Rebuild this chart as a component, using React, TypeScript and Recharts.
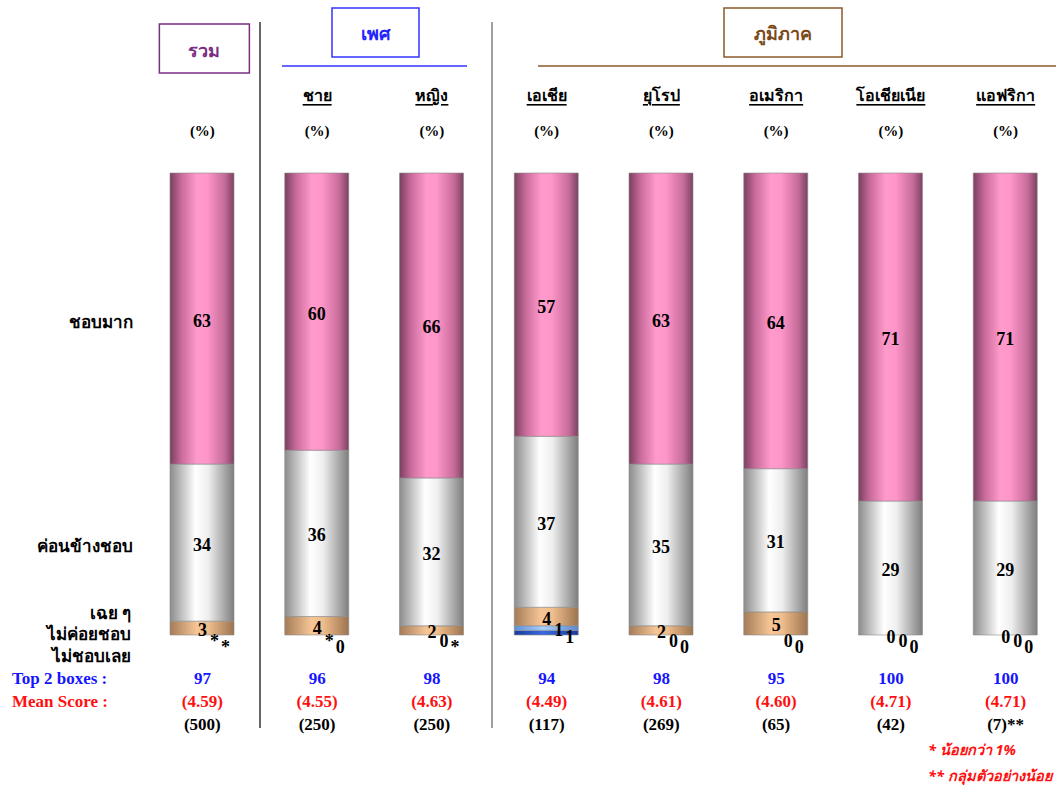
import React from "react";
import { BarChart, Bar, XAxis, YAxis, LabelList } from "recharts";

const categories = ["รวม", "ชาย", "หญิง", "เอเชีย", "ยุโรป", "อเมริกา", "โอเชียเนีย", "แอฟริกา"];
const likeMuch = [63, 60, 66, 57, 63, 64, 71, 71];
const likeSome = [34, 36, 32, 37, 35, 31, 29, 29];
const neutral = [3, 4, 2, 4, 2, 5, 0, 0];
const notMuch = [0, 0, 0, 1, 0, 0, 0, 0];
const notAtAll = [0, 0, 0, 1, 0, 0, 0, 0];
// "*" = less than 1%
const neutralLabels = ["3", "4", "2", "4", "2", "5", "0", "0"];
const notMuchLabels = ["*", "*", "0", "1", "0", "0", "0", "0"];
const notAtAllLabels = ["*", "0", "*", "1", "0", "0", "0", "0"];
const top2Boxes = [97, 96, 98, 94, 98, 95, 100, 100];
const meanScores = ["4.59", "4.55", "4.63", "4.49", "4.61", "4.60", "4.71", "4.71"];
const sampleSizes = ["(500)", "(250)", "(250)", "(117)", "(269)", "(65)", "(42)", "(7)**"];

const data = categories.map((name, i) => ({
  name,
  likeMuch: likeMuch[i],
  likeSome: likeSome[i],
  neutral: neutral[i],
  notMuch: notMuch[i],
  notAtAll: notAtAll[i],
}));

const SERIF = "'Liberation Serif', 'Times New Roman', serif";
const THAI = "Tahoma, 'Noto Sans', 'DejaVu Sans', sans-serif";
const PLOT_TOP = 173;
const BAR_BOTTOM = 635;
const PX = (BAR_BOTTOM - PLOT_TOP) / 100;

const TopTick = (props: any) => {
  const { x, index, payload } = props;
  return (
    <g>
      {index === 0 ? (
        <g>
          <rect x={x - 43} y={24} width={90} height={49} fill="#fff" stroke="#7b2c83" strokeWidth={1.5} />
          <text x={x + 2} y={50} textAnchor="middle" dominantBaseline="central" fill="#7b2c83"
            fontFamily={THAI} fontWeight="bold" fontSize={18}>{payload.value}</text>
        </g>
      ) : (
        <text x={x} y={95} textAnchor="middle" dominantBaseline="central" fill="#000"
          fontFamily={THAI} fontWeight="bold" fontSize={16} style={{ textDecoration: "underline" }}>
          {payload.value}
        </text>
      )}
      <text x={x} y={131} textAnchor="middle" dominantBaseline="central" fill="#000"
        fontFamily={SERIF} fontWeight="bold" fontSize={15}>(%)</text>
    </g>
  );
};

// small segment labels at the foot of each bar, plus the summary rows
const BottomTick = (props: any) => {
  const { x, index } = props;
  const a = notAtAll[index];
  const b = notMuch[index];
  const c = neutral[index];
  const yNeutral = BAR_BOTTOM - (a + b + c / 2) * PX + 2;
  const yNotMuch = b > 0 ? BAR_BOTTOM - (a + b / 2) * PX + 2 : BAR_BOTTOM + 6;
  const yNotAtAll = a > 0 ? BAR_BOTTOM - (a / 2) * PX + 4 : BAR_BOTTOM + 12;
  return (
    <g fontFamily={SERIF} fontWeight="bold" textAnchor="middle">
      <g fontSize={18} fill="#000">
        <text x={x} y={yNeutral} dominantBaseline="central">{neutralLabels[index]}</text>
        <text x={x + 12} y={yNotMuch} dominantBaseline="central">{notMuchLabels[index]}</text>
        <text x={x + 23} y={yNotAtAll} dominantBaseline="central">{notAtAllLabels[index]}</text>
      </g>
      <g fontSize={17}>
        <text x={x} y={678} dominantBaseline="central" fill="#1515ff">{top2Boxes[index]}</text>
        <text x={x} y={701} dominantBaseline="central" fill="#ff1010">({meanScores[index]})</text>
        <text x={x} y={724} dominantBaseline="central" fill="#000">{sampleSizes[index]}</text>
      </g>
    </g>
  );
};

const bigLabel = (props: any) => {
  const { x, y, width, height, value } = props;
  return (
    <text x={x + width / 2} y={y + height / 2 + 2} textAnchor="middle" dominantBaseline="central"
      fontFamily={SERIF} fontWeight="bold" fontSize={18} fill="#000">{value}</text>
  );
};

export default function App() {
  return (
    <div style={{ position: "absolute", left: 0, top: 0, width: 1056, height: 786, overflow: "hidden", background: "#fff" }}>
      <BarChart width={1063} height={786} data={data} barSize={64}
        margin={{ top: PLOT_TOP - 10, right: 0, left: 145, bottom: 786 - BAR_BOTTOM - 10 }}>
        <defs>
          <linearGradient id="gPink" x1="0" y1="0" x2="1" y2="0">
            <stop offset="0%" stopColor="#7a3f5e" />
            <stop offset="18%" stopColor="#c96b9c" />
            <stop offset="42%" stopColor="#ff9acb" />
            <stop offset="58%" stopColor="#ff96c9" />
            <stop offset="85%" stopColor="#c66c9a" />
            <stop offset="100%" stopColor="#7c4262" />
          </linearGradient>
          <linearGradient id="gGray" x1="0" y1="0" x2="1" y2="0">
            <stop offset="0%" stopColor="#8c8c8c" />
            <stop offset="40%" stopColor="#ffffff" />
            <stop offset="60%" stopColor="#eeeeee" />
            <stop offset="100%" stopColor="#7e7e7e" />
          </linearGradient>
          <linearGradient id="gTan" x1="0" y1="0" x2="1" y2="0">
            <stop offset="0%" stopColor="#a47c58" />
            <stop offset="42%" stopColor="#f7c696" />
            <stop offset="60%" stopColor="#f0bd8c" />
            <stop offset="100%" stopColor="#9c7450" />
          </linearGradient>
          <linearGradient id="gLightBlue" x1="0" y1="0" x2="1" y2="0">
            <stop offset="0%" stopColor="#5d8fd8" />
            <stop offset="45%" stopColor="#a8d0ff" />
            <stop offset="100%" stopColor="#5a88cc" />
          </linearGradient>
          <linearGradient id="gDarkBlue" x1="0" y1="0" x2="1" y2="0">
            <stop offset="0%" stopColor="#1a3a9c" />
            <stop offset="45%" stopColor="#3a6ae0" />
            <stop offset="100%" stopColor="#1a3a9c" />
          </linearGradient>
        </defs>
        <XAxis xAxisId="top" orientation="top" dataKey="name" height={10} axisLine={false} tickLine={false}
          interval={0} tick={<TopTick />} />
        <XAxis xAxisId="bottom" orientation="bottom" dataKey="name" height={10} axisLine={false} tickLine={false}
          interval={0} tick={<BottomTick />} />
        <YAxis hide domain={[0, 100]} />
        <Bar xAxisId="bottom" dataKey="notAtAll" stackId="a" fill="url(#gDarkBlue)" stroke="#8a8a8a" strokeWidth={0.6} isAnimationActive={false} />
        <Bar xAxisId="bottom" dataKey="notMuch" stackId="a" fill="url(#gLightBlue)" stroke="#8a8a8a" strokeWidth={0.6} isAnimationActive={false} />
        <Bar xAxisId="bottom" dataKey="neutral" stackId="a" fill="url(#gTan)" stroke="#8a8a8a" strokeWidth={0.6} isAnimationActive={false} />
        <Bar xAxisId="bottom" dataKey="likeSome" stackId="a" fill="url(#gGray)" stroke="#8a8a8a" strokeWidth={0.6} isAnimationActive={false}>
          <LabelList dataKey="likeSome" content={bigLabel} />
        </Bar>
        <Bar xAxisId="bottom" dataKey="likeMuch" stackId="a" fill="url(#gPink)" stroke="#8a8a8a" strokeWidth={0.6} isAnimationActive={false}>
          <LabelList dataKey="likeMuch" content={bigLabel} />
        </Bar>
      </BarChart>

      <svg width={1056} height={786} style={{ position: "absolute", left: 0, top: 0, pointerEvents: "none" }}>
        {/* group dividers */}
        <line x1={260} y1={22} x2={260} y2={728} stroke="#000" strokeWidth={1.2} />
        <line x1={492} y1={22} x2={492} y2={728} stroke="#808080" strokeWidth={1.5} />

        {/* เพศ header */}
        <rect x={332} y={8} width={87} height={49} fill="#fff" stroke="#3333ff" strokeWidth={1.5} />
        <text x={375} y={33} textAnchor="middle" dominantBaseline="central" fill="#2222ff"
          fontFamily={THAI} fontWeight="bold" fontSize={18}>เพศ</text>
        <line x1={282} y1={66} x2={467} y2={66} stroke="#3333ff" strokeWidth={1.5} />

        {/* ภูมิภาค header */}
        <rect x={724} y={8} width={118} height={49} fill="#fff" stroke="#8b5a2b" strokeWidth={1.5} />
        <text x={783} y={33} textAnchor="middle" dominantBaseline="central" fill="#7a4a1a"
          fontFamily={THAI} fontWeight="bold" fontSize={18}>ภูมิภาค</text>
        <line x1={538} y1={66} x2={1056} y2={66} stroke="#8b5a2b" strokeWidth={1.5} />

        {/* row labels */}
        <g fontFamily={THAI} fontWeight="bold" fontSize={17} fill="#000" textAnchor="end">
          <text x={133} y={321} dominantBaseline="central">ชอบมาก</text>
          <text x={133} y={545} dominantBaseline="central">ค่อนข้างชอบ</text>
          <text x={131} y={612} dominantBaseline="central">เฉย ๆ</text>
          <text x={131} y={633} dominantBaseline="central">ไม่ค่อยชอบ</text>
          <text x={131} y={655} dominantBaseline="central">ไม่ชอบเลย</text>
        </g>
        <g fontFamily={SERIF} fontWeight="bold" fontSize={17}>
          <text x={12} y={678} dominantBaseline="central" fill="#1515ff">Top 2 boxes :</text>
          <text x={12} y={701} dominantBaseline="central" fill="#ff1010">Mean Score :</text>
        </g>

        {/* footnotes */}
        <g fontFamily={THAI} fontWeight="bold" fontStyle="italic" fontSize={14.5} fill="#ff1010">
          <text x={928} y={749} dominantBaseline="central">* น้อยกว่า 1%</text>
          <text x={928} y={775} dominantBaseline="central">** กลุ่มตัวอย่างน้อย</text>
        </g>
      </svg>
    </div>
  );
}
